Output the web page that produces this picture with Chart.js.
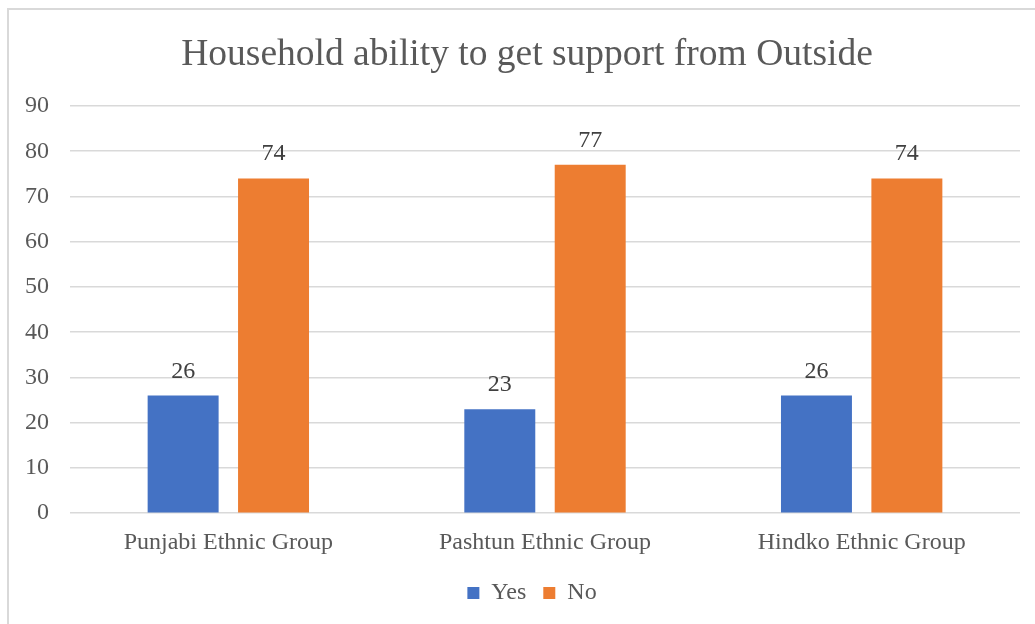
<!DOCTYPE html>
<html>
<head>
<meta charset="utf-8">
<title>Household ability to get support from Outside</title>
<script src="https://cdn.jsdelivr.net/npm/chart.js@4/dist/chart.umd.min.js"></script>
<style>
  html, body { margin: 0; padding: 0; background: #fff; overflow: hidden; }
  #wrap { position: relative; width: 1035px; height: 624px; }
  #frame {
    position: absolute; left: 7px; top: 8px; width: 1100px; height: 700px;
    border-left: 2px solid #d9d9d9; border-top: 2px solid #d9d9d9;
    pointer-events: none;
  }
</style>
</head>
<body>
<div id="wrap">
  <canvas id="chart" width="1035" height="624"></canvas>
  <div id="frame"></div>
</div>
<script>
const groups = ['Punjabi Ethnic Group', 'Pashtun Ethnic Group', 'Hindko Ethnic Group'];
const yesValues = [26, 23, 26];
const noValues = [74, 77, 74];
const seriesNames = ['Yes', 'No'];

const serif = '"Liberation Serif", "Times New Roman", serif';
const grey = '#595959';

// numbers printed above each bar
const barValues = {
  id: 'barValues',
  afterDatasetsDraw(chart) {
    const ctx = chart.ctx;
    ctx.save();
    ctx.font = '24px ' + serif;
    ctx.fillStyle = '#404040';
    ctx.textAlign = 'center';
    ctx.textBaseline = 'alphabetic';
    chart.data.datasets.forEach((ds, i) => {
      chart.getDatasetMeta(i).data.forEach((bar, j) => {
        ctx.fillText(String(ds.data[j]), bar.x, bar.y - 18);
      });
    });
    ctx.restore();
  }
};

// nudge title and legend right so they sit nearer the plot's centre
const centreBoxes = {
  id: 'centreBoxes',
  afterLayout(chart) {
    const t = chart.titleBlock, l = chart.legend;
    if (t) { t.left += 17; t.right += 17; }
    if (l) { l.left += 22; l.right += 22; }
  }
};

new Chart(document.getElementById('chart'), {
  type: 'bar',
  data: {
    labels: groups,
    datasets: [
      { label: seriesNames[0], data: yesValues, backgroundColor: '#4472C4' },
      { label: seriesNames[1], data: noValues, backgroundColor: '#ED7D31' }
    ]
  },
  options: {
    responsive: false,
    animation: false,
    categoryPercentage: 0.571,
    barPercentage: 0.785,
    layout: { padding: { left: 0, right: 15, top: 0, bottom: 9 } },
    plugins: {
      title: {
        display: true,
        text: 'Household ability to get support from Outside',
        color: grey,
        font: { family: serif, size: 37.5, weight: 'normal' },
        padding: { top: 33, bottom: 28 }
      },
      legend: {
        position: 'bottom',
        labels: {
          color: grey,
          font: { family: serif, size: 24 },
          boxWidth: 12,
          boxHeight: 12,
          padding: 17
        }
      },
      tooltip: { enabled: false }
    },
    scales: {
      x: {
        grid: { display: false },
        border: { display: false },
        ticks: { color: grey, font: { family: serif, size: 24 }, padding: 7 }
      },
      y: {
        min: 0,
        max: 90,
        ticks: { stepSize: 10, color: grey, font: { family: serif, size: 24 }, padding: 21 },
        grid: { color: '#d9d9d9', lineWidth: 1.5, drawTicks: false },
        border: { display: false },
        afterFit(scale) { scale.width = 70; }
      }
    }
  },
  plugins: [barValues, centreBoxes]
});
</script>
</body>
</html>
